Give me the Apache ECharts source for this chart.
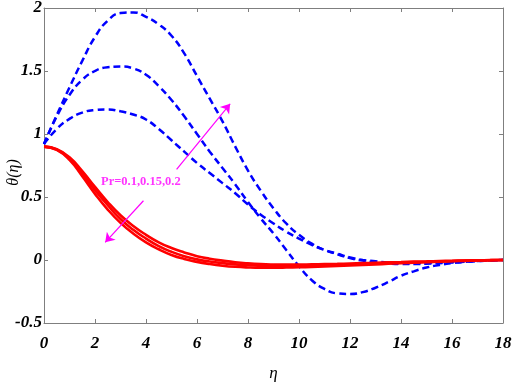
<!DOCTYPE html>
<html>
<head>
<meta charset="utf-8">
<script src="https://cdn.jsdelivr.net/npm/echarts@6/dist/echarts.min.js"></script>
<style>
  html, body { margin: 0; padding: 0; background: #fff; }
  #graph { width: 512px; height: 386px; }
</style>
</head>
<body>
<div id="graph"></div>
<script>
// eta grid, step 0.5
var eta = [0, 0.5, 1, 1.5, 2, 2.5, 3, 3.5, 4, 4.5, 5, 5.5, 6, 6.5, 7, 7.5, 8, 8.5, 9, 9.5,
  10, 10.5, 11, 11.5, 12, 12.5, 13, 13.5, 14, 14.5, 15, 15.5, 16, 16.5, 17, 17.5, 18];

// blue dashed curves (rise with Pr)
var blueHigh = [0.92, 1.15, 1.37, 1.58, 1.77, 1.90, 1.96, 1.965, 1.93, 1.87, 1.78, 1.64, 1.46, 1.28, 1.10, 0.90, 0.71, 0.55, 0.41, 0.29,
  0.20, 0.13, 0.08, 0.05, 0.02, 0.0, -0.01, -0.02, -0.025, -0.025, -0.022, -0.018, -0.015, -0.01, -0.006, -0.003, 0];
var blueMid = [0.92, 1.14, 1.31, 1.43, 1.50, 1.53, 1.535, 1.52, 1.47, 1.38, 1.27, 1.14, 1.0, 0.86, 0.73, 0.60, 0.46, 0.33, 0.21, 0.08,
  -0.05, -0.16, -0.23, -0.265, -0.27, -0.255, -0.22, -0.175, -0.125, -0.09, -0.06, -0.04, -0.025, -0.015, -0.008, -0.003, 0];
var blueLow = [0.92, 1.04, 1.12, 1.17, 1.19, 1.195, 1.18, 1.155, 1.115, 1.04, 0.95, 0.86, 0.77, 0.69, 0.61, 0.53, 0.44, 0.36, 0.29, 0.225,
  0.17, 0.12, 0.08, 0.045, 0.015, -0.005, -0.02, -0.028, -0.032, -0.032, -0.03, -0.025, -0.02, -0.014, -0.008, -0.004, 0];

// red solid curves (fall with Pr)
var redA = [0.9, 0.88, 0.815, 0.705, 0.58, 0.46, 0.355, 0.27, 0.20, 0.14, 0.095, 0.06, 0.03, 0.01, -0.005, -0.018, -0.027, -0.033, -0.036, -0.037,
  -0.037, -0.035, -0.033, -0.031, -0.028, -0.025, -0.022, -0.019, -0.016, -0.013, -0.011, -0.008, -0.006, -0.004, -0.002, -0.001, 0];
var redB = [0.9, 0.877, 0.805, 0.685, 0.555, 0.435, 0.325, 0.24, 0.17, 0.11, 0.065, 0.03, 0.005, -0.012, -0.025, -0.035, -0.042, -0.046, -0.048, -0.048,
  -0.047, -0.045, -0.042, -0.039, -0.036, -0.032, -0.028, -0.024, -0.02, -0.017, -0.014, -0.011, -0.008, -0.005, -0.003, -0.001, 0];
var redC = [0.9, 0.874, 0.795, 0.665, 0.525, 0.40, 0.295, 0.21, 0.14, 0.085, 0.04, 0.008, -0.015, -0.032, -0.045, -0.054, -0.059, -0.061, -0.061, -0.06,
  -0.058, -0.055, -0.052, -0.048, -0.044, -0.04, -0.035, -0.03, -0.026, -0.022, -0.018, -0.014, -0.01, -0.007, -0.004, -0.002, 0];

// annotation (data coords)
var prText = 'Pr=0.1,0.15,0.2';
var prTextAt = [3.8, 0.62];
var arrowUp = [[5.2, 0.72], [7.3, 1.24]];
var arrowDown = [[3.9, 0.47], [2.4, 0.14]];

function pairs(ys) {
  return eta.map(function (x, i) { return [x, ys[i]]; });
}

var axisGray = '#7f7f7f';
var tickFont = { fontFamily: 'Liberation Serif', fontStyle: 'italic', fontWeight: 'bold', fontSize: 17, color: '#000' };

var dom = document.getElementById('graph');
var myChart = echarts.init(dom);

function blueSeries(ys) {
  return {
    type: 'line', data: pairs(ys), smooth: true, showSymbol: false,
    lineStyle: { color: '#0000ff', width: 2.5, type: [7, 4] }, z: 3
  };
}
function redSeries(ys) {
  return {
    type: 'line', data: pairs(ys), smooth: true, showSymbol: false,
    lineStyle: { color: '#ff0000', width: 2.6 }, z: 4
  };
}

var option = {
  animation: false,
  backgroundColor: '#fff',
  grid: { left: 44, right: 9, top: 8, bottom: 63, outerBoundsMode: 'none', containLabel: false },
  xAxis: [{
    type: 'value', min: 0, max: 18, interval: 2, position: 'bottom',
    name: 'η', nameLocation: 'middle', nameGap: 42, nameMoveOverlap: false,
    nameTextStyle: { fontFamily: 'Liberation Serif', fontStyle: 'italic', fontSize: 17, color: '#000' },
    axisLine: { show: true, onZero: false, lineStyle: { color: axisGray } },
    axisTick: { inside: true, length: 4, lineStyle: { color: axisGray } },
    axisLabel: Object.assign({ margin: 12 }, tickFont),
    splitLine: { show: false }
  }, {
    type: 'value', min: 0, max: 18, interval: 2, position: 'top',
    axisLine: { show: true, onZero: false, lineStyle: { color: axisGray } },
    axisTick: { inside: true, length: 4, lineStyle: { color: axisGray } },
    axisLabel: { show: false },
    splitLine: { show: false }
  }],
  yAxis: [{
    type: 'value', min: -0.5, max: 2, interval: 0.5, position: 'left',
    name: 'θ(η)', nameLocation: 'middle', nameGap: 22, nameRotate: 90, nameMoveOverlap: false,
    nameTextStyle: { fontFamily: 'Liberation Serif', fontStyle: 'italic', fontSize: 16, color: '#000', padding: [0, 14, 0, 0] },
    axisLine: { show: true, onZero: false, lineStyle: { color: axisGray } },
    axisTick: { inside: true, length: 4, lineStyle: { color: axisGray } },
    axisLabel: Object.assign({ margin: 2 }, tickFont),
    splitLine: { show: false }
  }, {
    type: 'value', min: -0.5, max: 2, interval: 0.5, position: 'right',
    axisLine: { show: true, onZero: false, lineStyle: { color: axisGray } },
    axisTick: { inside: true, length: 4, lineStyle: { color: axisGray } },
    axisLabel: { show: false },
    splitLine: { show: false }
  }],
  series: [
    blueSeries(blueHigh),
    blueSeries(blueMid),
    blueSeries(blueLow),
    redSeries(redA),
    redSeries(redB),
    redSeries(redC),
    {
      type: 'lines', coordinateSystem: 'cartesian2d', z: 6,
      symbol: ['none', 'arrow'], symbolSize: 9,
      lineStyle: { color: '#ff00ff', width: 1.2, opacity: 1, curveness: 0 },
      data: [{ coords: arrowUp }, { coords: arrowDown }]
    },
    {
      type: 'scatter', symbolSize: 0, z: 7, silent: true,
      data: [prTextAt],
      label: {
        show: true, position: 'inside', formatter: prText,
        fontFamily: 'Liberation Serif', fontWeight: 'bold', fontSize: 12.5, color: '#ff00ff'
      }
    }
  ]
};

myChart.setOption(option, true);
</script>
</body>
</html>
